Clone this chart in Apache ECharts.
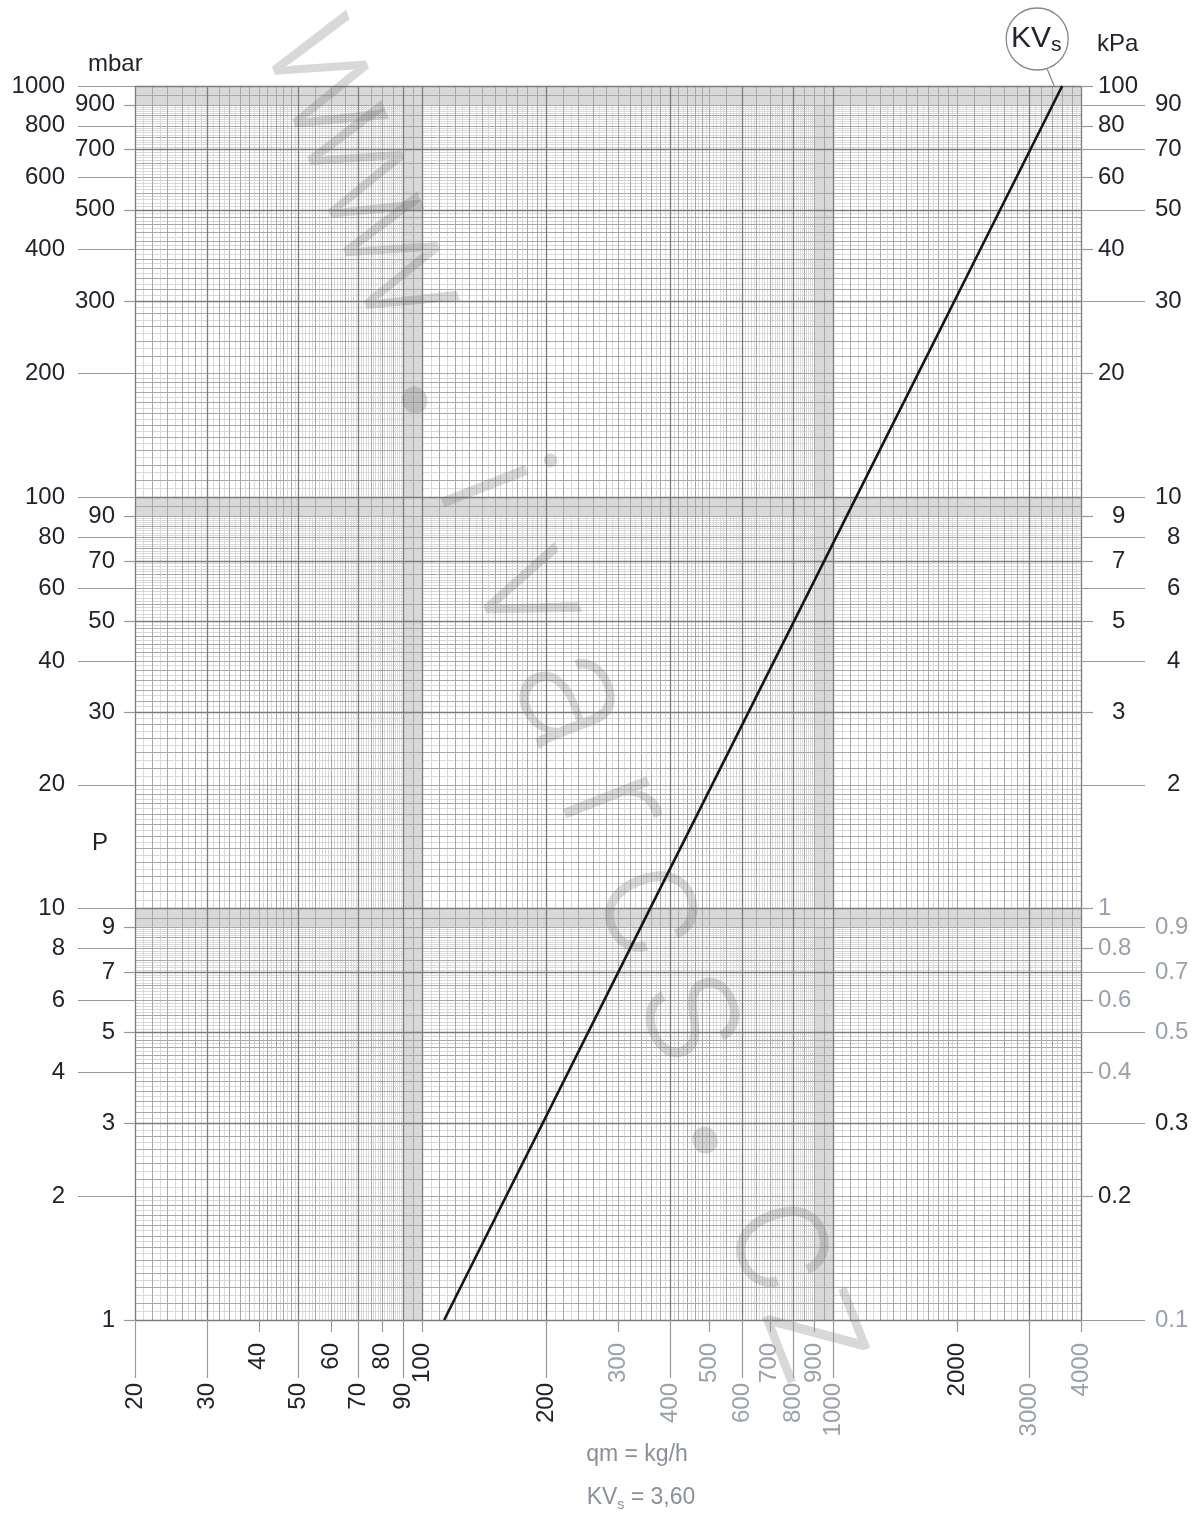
<!DOCTYPE html>
<html><head><meta charset="utf-8">
<script src="https://cdn.jsdelivr.net/npm/echarts@6/dist/echarts.min.js"></script>
<style>html,body{margin:0;padding:0;background:#fff}#c{width:1199px;height:1515px}</style>
</head><body><div id="c"></div>
<script>
// ---- data ----
const flowPoints = [[113, 1], [358, 10], [1135, 100], [3600, 1000]]; // qm [kg/h], P [mbar]
const qTicksLower = [20, 30, 50, 70, 90, 200, 400, 600, 800, 1000, 3000];
const qTicksUpper = [40, 60, 80, 100, 300, 500, 700, 900, 2000, 4000];
const qTicksGray = [300, 400, 500, 600, 700, 800, 900, 1000, 3000, 4000];
const mbarTicksOuter = [1000, 800, 600, 400, 200, 100, 80, 60, 40, 20, 10, 8, 6, 4, 2];
const mbarTicksInner = [900, 700, 500, 300, 90, 70, 50, 30, 9, 7, 5, 3, 1];
const kpaTicksInner = [100, 80, 60, 40, 20, 1, 0.8, 0.6, 0.4, 0.2];
const kpaTicksInnerSingle = [9, 7, 5, 3];
const kpaTicksOuter = [90, 70, 50, 30, 10, 0.9, 0.7, 0.5, 0.3, 0.1];
const kpaTicksOuterSingle = [8, 6, 4, 2];
const kpaTicksGray = [1, 0.9, 0.8, 0.7, 0.6, 0.5, 0.4, 0.1];
const xDarkLines = [20, 30, 50, 70, 90, 100, 200, 400, 600, 800, 1000, 3000, 4000];
const yDarkLines = [1, 3, 5, 7, 10, 30, 50, 70, 100, 300, 500, 700, 1000];

// log-paper subdivision of one decade (mantissa from, to, step)
const lightSegs = [[1, 2, 0.05], [2, 9, 0.1], [9, 10, 0.05]];
const mediumSegs = [[1, 2, 0.1], [2, 5, 0.2], [5, 10, 0.5]];

// watermark text
const watermarkChars = ['w', 'w', 'w', '.', 'i', 'v', 'a', 'r', 'c', 's', '.', 'c', 'z'];

function decadeLines(decades, segs, lo, hi) {
  const out = [];
  decades.forEach(d => segs.forEach(([a, b, s]) => {
    const n = Math.round((b - a) / s);
    for (let k = 0; k <= n; k++) {
      const v = +((a + k * s) * d).toPrecision(10);
      if (v >= lo && v <= hi) out.push(v);
    }
  }));
  return Array.from(new Set(out)).sort((a, b) => a - b);
}
const xLight = decadeLines([10, 100, 1000], lightSegs, 20, 4000);
const xMedium = decadeLines([10, 100, 1000], mediumSegs, 20, 4000);
const yLight = decadeLines([1, 10, 100], lightSegs, 1, 1000);
const yMedium = decadeLines([1, 10, 100], mediumSegs, 1, 1000);

const FONT = 'Liberation Sans, Arial, sans-serif';
const DARK = '#23232e';
const GRAY = '#9aa1aa';
const inList = (list, v) => list.some(t => Math.abs(t - Number(v)) < 1e-9);
const fmt = v => String(+Number(v).toPrecision(6));

function gridAxis(min, max, vals, color, width, z, pos) {
  return {
    type: 'log', logBase: 10, min, max, position: pos, z,
    axisLine: { show: false },
    axisTick: { show: false, customValues: vals },
    axisLabel: { show: false, customValues: vals },
    splitLine: { show: true, lineStyle: { color, width } },
    minorTick: { show: false }, minorSplitLine: { show: false }
  };
}
function labelAxis(min, max, vals, pos, tickLen, margin, grayList, rotate) {
  return {
    type: 'log', logBase: 10, min, max, position: pos, z: 4,
    axisLine: { show: false },
    axisTick: { show: true, customValues: vals, length: tickLen, lineStyle: { color: '#999', width: 1.2 } },
    axisLabel: {
      show: true, customValues: vals, margin, rotate: rotate || 0,
      fontFamily: FONT, fontSize: 24,
      formatter: v => fmt(v),
      color: v => inList(grayList, v) ? GRAY : DARK
    },
    splitLine: { show: false }
  };
}

const chart = echarts.init(document.getElementById('c'), null, { renderer: 'canvas' });

chart.setOption({
  animation: false,
  backgroundColor: '#fff',
  grid: { left: 135, right: 118, top: 86, bottom: 195, containLabel: false, outerBoundsMode: 'none' },
  xAxis: [
    gridAxis(20, 4000, xLight, '#d9d9d9', 1, 0, 'bottom'),
    gridAxis(20, 4000, xMedium, '#a8a8a8', 1, 1, 'bottom'),
    gridAxis(20, 4000, xDarkLines, '#7c7c7c', 1.3, 2, 'bottom'),
    labelAxis(20, 4000, qTicksLower, 'bottom', 58, 63, qTicksGray, 90),
    labelAxis(20, 4000, qTicksUpper, 'bottom', 12, 23, qTicksGray, 90)
  ],
  yAxis: [
    gridAxis(1, 1000, yLight, '#d9d9d9', 1, 0, 'left'),
    gridAxis(1, 1000, yMedium, '#a8a8a8', 1, 1, 'left'),
    gridAxis(1, 1000, yDarkLines, '#7c7c7c', 1.3, 2, 'left'),
    labelAxis(1, 1000, mbarTicksOuter, 'left', 57, 70, []),
    labelAxis(1, 1000, mbarTicksInner, 'left', 11, 20, []),
    labelAxis(0.1, 100, kpaTicksInner, 'right', 12, 17, kpaTicksGray),
    labelAxis(0.1, 100, kpaTicksInnerSingle, 'right', 12, 31, kpaTicksGray),
    labelAxis(0.1, 100, kpaTicksOuter, 'right', 64, 74, kpaTicksGray),
    labelAxis(0.1, 100, kpaTicksOuterSingle, 'right', 64, 86, kpaTicksGray)
  ],
  series: [{
    type: 'line', name: 'KVs 3,60', xAxisIndex: 0, yAxisIndex: 0,
    data: flowPoints, showSymbol: false, symbol: 'none', silent: true, z: 10,
    lineStyle: { color: '#161616', width: 2.6 }
  }]
});

// decorations: titles, KVs badge, watermark
const end = chart.convertToPixel({ seriesIndex: 0 }, flowPoints[flowPoints.length - 1]);
const cx = end[0] - 25, cy = end[1] - 47, r = 31;

const rot = -68.6 * Math.PI / 180;
const dirX = Math.cos(68.6 * Math.PI / 180), dirY = Math.sin(68.6 * Math.PI / 180);
const wmStart = [318, 68];
const wmAlong = [15, 112, 210, 345, 450, 565, 680, 795, 905, 1020, 1140, 1265, 1360];
const wmEls = watermarkChars.map((ch, i) => {
  const px = wmStart[0] + dirX * wmAlong[i], py = wmStart[1] + dirY * wmAlong[i];
  const isDot = ch === '.';
  return { type: 'text', z: 3, silent: true, x: px, y: py, rotation: rot,
    style: { text: ch, x: 0, y: 0, align: 'center', verticalAlign: 'middle',
      font: (isDot ? '700 ' : '300 ') + '170px Roboto, Lato, sans-serif', fill: 'rgba(110,110,110,0.27)' } };
});

chart.setOption({
  graphic: wmEls.concat([
    { type: 'text', z: 20, x: 88, y: 64, style: { text: 'mbar', font: '24px ' + FONT, fill: DARK, verticalAlign: 'middle' } },
    { type: 'text', z: 20, x: 1097, y: 44, style: { text: 'kPa', font: '24px ' + FONT, fill: DARK, verticalAlign: 'middle' } },
    { type: 'text', z: 20, x: 92, y: 843, style: { text: 'P', font: '24px ' + FONT, fill: DARK, verticalAlign: 'middle' } },
    { type: 'text', z: 20, x: 637, y: 1455, style: { text: 'qm = kg/h', font: '23px ' + FONT, fill: '#8a9099', align: 'center', verticalAlign: 'middle' } },
    { type: 'text', z: 20, x: 641, y: 1498, style: {
        text: '{a|KV}{s|s}{a| = 3,60}', align: 'center', verticalAlign: 'middle',
        rich: { a: { fontFamily: FONT, fontSize: 23, fill: '#8a9099', lineHeight: 28, verticalAlign: 'middle' },
                s: { fontFamily: FONT, fontSize: 14, fill: '#8a9099', lineHeight: 14, verticalAlign: 'bottom' } } } },
    { type: 'line', z: 20, shape: { x1: cx + 10, y1: cy + r - 1, x2: end[0] - 8, y2: end[1] }, style: { stroke: '#888', lineWidth: 1.2 } },
    { type: 'circle', z: 20, shape: { cx, cy, r }, style: { fill: '#fff', stroke: '#888', lineWidth: 1.3 } },
    { type: 'text', z: 21, x: cx - 1, y: cy, style: {
        text: '{a|KV}{s|s}', align: 'center', verticalAlign: 'middle',
        rich: { a: { fontFamily: FONT, fontSize: 30, fill: DARK, lineHeight: 34, verticalAlign: 'middle' },
                s: { fontFamily: FONT, fontSize: 21, fill: DARK, lineHeight: 21, verticalAlign: 'bottom' } } } }
  ])
});
</script></body></html>
